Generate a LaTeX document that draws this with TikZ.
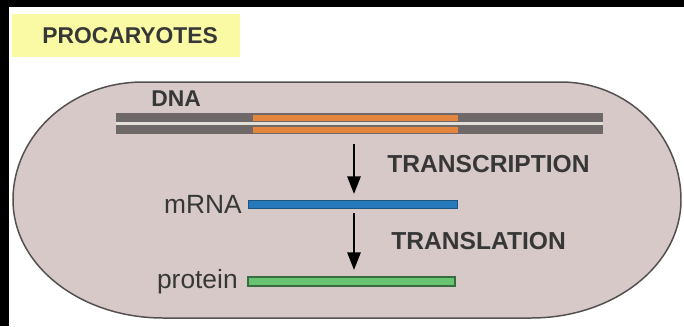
\documentclass[tikz,border=0pt]{standalone}
\usepackage{fontspec}
\setmainfont{Liberation Sans}
\usepackage{tikz}
\usetikzlibrary{arrows.meta, positioning}
\definecolor{cellfill}{RGB}{214,201,200}
\definecolor{celledge}{RGB}{85,80,80}
\definecolor{strandgray}{RGB}{110,104,104}
\definecolor{strandgap}{RGB}{226,222,216}
\definecolor{geneorange}{RGB}{228,134,62}
\definecolor{rnablue}{RGB}{38,121,186}
\definecolor{protgreen}{RGB}{104,196,112}
\definecolor{markyellow}{RGB}{250,250,165}
\definecolor{inkgray}{RGB}{55,55,55}

\begin{document}
\begin{tikzpicture}[x=0.02cm, y=0.02cm, >={Triangle[length=10pt, width=7.5pt]},
    bar/.style={inner sep=0, outer sep=0, draw=none},
    head/.style={inner sep=0, text=inkgray, font=\fontsize{14}{16}\selectfont\bfseries},
    tag/.style={inner sep=0, text=inkgray, font=\fontsize{15}{17}\selectfont},
    flow/.style={->, line width=1.2pt}]
    \useasboundingbox (0,0) rectangle (684,326);
    \fill[black] (0,319) rectangle (684,326);
    \fill[black] (0,0) rectangle (9,326);

    \fill[markyellow] (12,269) rectangle (240,312);
    \node[head, anchor=west, font=\fontsize{13}{15}\selectfont\bfseries] (title) at (42,290) {PROCARYOTES};

    % cell
    \draw[fill=cellfill, draw=celledge, line width=0.85pt] (138,244) -- (561,244)
        arc[start angle=90, end angle=0, x radius=120, y radius=118]
        arc[start angle=0, end angle=-90, x radius=150, y radius=118]
        -- (163,8)
        arc[start angle=270, end angle=180, x radius=150, y radius=118]
        arc[start angle=180, end angle=90, x radius=130, y radius=118] -- cycle;

    % DNA double strand
    \fill[strandgap] (116,200) rectangle (603,205);
    \node[bar, fill=strandgray, minimum width=9.74cm, minimum height=0.18cm] (strandA) at (359.5,208.5) {};
    \node[bar, fill=strandgray, minimum width=9.74cm, minimum height=0.18cm] (strandB) at (359.5,196.5) {};
    \node[bar, fill=geneorange, minimum width=4.1cm, minimum height=0.12cm] (geneA) at (355.5,208.5) {};
    \node[bar, fill=geneorange, minimum width=4.1cm, minimum height=0.12cm] (geneB) at (355.5,196.5) {};
    \node[head, anchor=west, font=\fontsize{13}{15}\selectfont\bfseries] (dnalabel) at (151,227) {DNA};

    % mRNA and protein
    \node[bar, fill=rnablue, draw=rnablue!70!black, line width=0.4pt, minimum width=4.18cm, minimum height=0.16cm] (mrna) at (352.5,122) {};
    \node[tag, left=0.12cm of mrna] (mrnalabel) {mRNA};
    \node[bar, fill=protgreen, draw=protgreen!55!black, line width=0.6pt, minimum width=4.14cm, minimum height=0.18cm] (protein) at (351.5,44.5) {};
    \node[tag, left=0.2cm of protein] (proteinlabel) {protein};

    % steps
    \draw[flow, shorten <=0.23cm, shorten >=0.12cm] ([xshift=-0.03cm]geneB.south) -- ([xshift=-0.03cm]geneB.south |- mrna.north);
    \draw[flow, shorten <=0.1cm, shorten >=0.14cm] ([xshift=0.03cm]mrna.south) -- ([xshift=0.03cm]mrna.south |- protein.north);
    \node[head, anchor=west] (transcription) at (387,162) {TRANSCRIPTION};
    \node[head, anchor=west] (translation) at (391,85) {TRANSLATION};
\end{tikzpicture}
\end{document}
